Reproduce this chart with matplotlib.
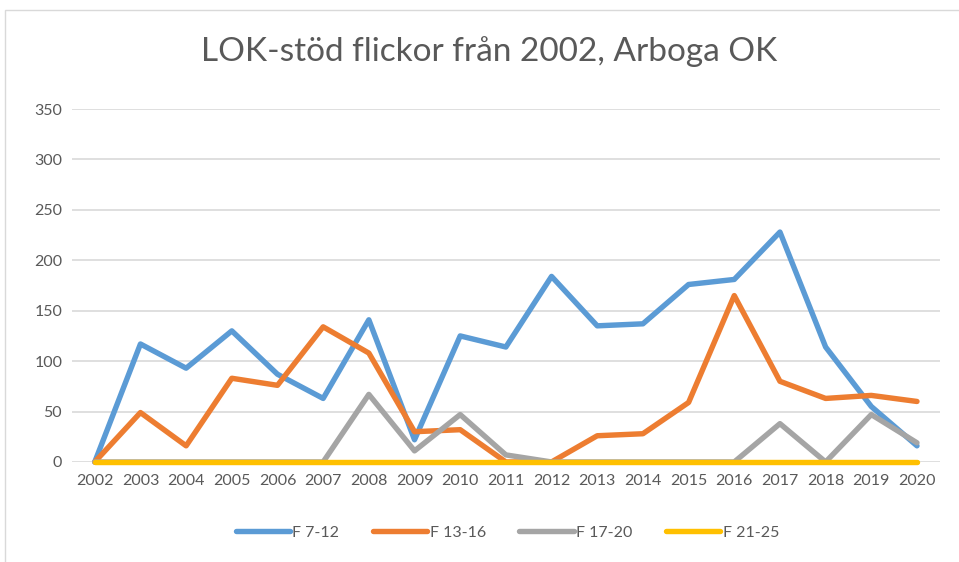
import matplotlib.pyplot as plt
import matplotlib.patches as patches
import numpy as np

years = [str(y) for y in range(2002, 2021)]
f_7_12 = [0, 117, 93, 130, 87, 63, 141, 22, 125, 114, 184, 135, 137, 176, 181, 228, 114, 55, 16]
f_13_16 = [0, 49, 16, 83, 76, 134, 108, 30, 32, 0, 0, 26, 28, 59, 165, 80, 63, 66, 60]
f_17_20 = [0, 0, 0, 0, 0, 0, 67, 11, 47, 7, 0, 0, 0, 0, 0, 38, 0, 47, 19]
f_21_25 = [0] * 19

series = [("F 7-12", f_7_12, "#5B9BD5"),
          ("F 13-16", f_13_16, "#ED7D31"),
          ("F 17-20", f_17_20, "#A5A5A5"),
          ("F 21-25", f_21_25, "#FFC000")]

plt.rcParams['font.family'] = ['Lato', 'DejaVu Sans']

fig = plt.figure(figsize=(9.59, 5.62), dpi=100)
ax = fig.add_axes([0.075, 0.178, 0.905, 0.628])

# light frame around the chart area
fig.patches.append(patches.Rectangle((5 / 959, -0.01), 1.0, 1 - 10 / 562 + 0.01,
                                     transform=fig.transFigure, fill=False,
                                     edgecolor="#D9D9D9", lw=1))

x = np.arange(len(years))
for name, vals, col in series:
    ax.plot(x, vals, color=col, lw=3.9, label=name, solid_capstyle='round',
            solid_joinstyle='round', clip_on=False)

ax.set_xlim(-0.5, len(years) - 0.5)
ax.set_ylim(0, 350)
ax.set_yticks(range(0, 351, 50))
ax.set_xticks(x)
ax.set_xticklabels(years)
ax.grid(axis='y', color="#D9D9D9", lw=1.2)
ax.set_axisbelow(True)
for s in ax.spines.values():
    s.set_visible(False)
ax.tick_params(length=0, labelsize=11.5, labelcolor="#595959")
ax.tick_params(axis='y', pad=7)
ax.tick_params(axis='x', pad=9)

fig.text(0.51, 0.908, "LOK-stöd flickor från 2002, Arboga OK", ha='center', va='center',
         fontsize=24, color="#595959")

fig.legend(loc='center', bbox_to_anchor=(0.529, 0.052), ncol=4, frameon=False,
           fontsize=11.5, labelcolor="#595959", handlelength=3.4, handletextpad=0.15,
           columnspacing=2.1)

fig.savefig("out.png", dpi=100)
